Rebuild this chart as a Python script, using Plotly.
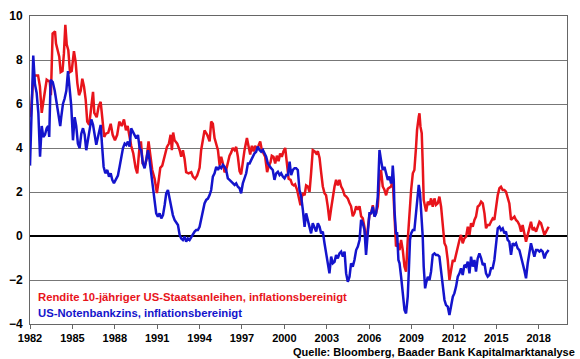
import plotly.graph_objects as go

# Rendite 10-jähriger US-Staatsanleihen, inflationsbereinigt (red)
red_years = [1982.05,1982.23,1982.35,1982.57,1982.70,1982.83,1983.06,1983.18,1983.40,1983.48,1983.60,1983.77,1983.84,1983.95,
1984.07,1984.17,1984.30,1984.40,1984.50,1984.60,1984.71,1984.83,1984.95,1985.11,1985.23,1985.35,1985.47,1985.59,1985.70,1985.82,1985.94,
1986.05,1986.19,1986.36,1986.46,1986.55,1986.72,1986.86,1987.00,1987.11,1987.25,1987.37,1987.54,1987.71,1987.85,1988.01,1988.17,1988.32,
1988.49,1988.65,1988.79,1988.91,1989.02,1989.16,1989.31,1989.47,1989.59,1989.73,1989.85,1989.97,1990.13,1990.25,1990.39,1990.51,1990.65,
1990.82,1990.98,1991.10,1991.22,1991.36,1991.53,1991.69,1991.83,1991.95,1992.04,1992.13,1992.23,1992.42,1992.59,1992.70,1992.82,1992.94,
1993.05,1993.22,1993.41,1993.53,1993.69,1993.83,1994.00,1994.11,1994.23,1994.35,1994.54,1994.71,1994.82,1994.94,1995.06,1995.18,1995.30,
1995.42,1995.53,1995.65,1995.77,1995.88,1996.00,1996.12,1996.24,1996.35,1996.48,1996.59,1996.71,1996.83,1996.94,1997.06,1997.18,1997.35,
1997.47,1997.58,1997.70,1997.82,1997.93,1998.05,1998.17,1998.29,1998.41,1998.53,1998.64,1998.78,1998.90,1999.02,1999.11,1999.23,1999.35,
1999.47,1999.59,1999.70,1999.82,1999.94,2000.06,2000.18,2000.30,2000.44,2000.55,2000.67,2000.76,2000.90,2001.02,2001.14,2001.25,2001.31,
2001.43,2001.54,2001.66,2001.78,2001.89,2002.01,2002.13,2002.25,2002.37,2002.49,2002.60,2002.72,2002.84,2002.95,2003.07,2003.19,2003.31,
2003.43,2003.55,2003.66,2003.78,2003.90,2004.02,2004.14,2004.26,2004.37,2004.49,2004.61,2004.72,2004.84,2004.96,2005.08,2005.20,2005.32,
2005.43,2005.55,2005.67,2005.78,2005.90,2006.02,2006.14,2006.26,2006.38,2006.49,2006.61,2006.73,2006.84,2006.96,2007.08,2007.20,2007.32,
2007.55,2007.67,2007.74,2007.83,2007.90,2008.03,2008.15,2008.26,2008.38,2008.50,2008.61,2008.73,2008.85,2008.97,2009.09,2009.20,2009.32,
2009.39,2009.51,2009.56,2009.63,2009.72,2009.79,2009.86,2009.96,2010.03,2010.15,2010.27,2010.38,2010.50,2010.62,2010.73,2010.85,2010.97,
2011.09,2011.21,2011.33,2011.44,2011.56,2011.68,2011.80,2011.92,2012.03,2012.15,2012.27,2012.39,2012.50,2012.62,2012.74,2012.86,2012.98,
2013.10,2013.21,2013.33,2013.45,2013.56,2013.68,2013.80,2013.92,2014.04,2014.16,2014.27,2014.39,2014.51,2014.62,2014.74,2014.86,2014.98,
2015.10,2015.22,2015.33,2015.45,2015.57,2015.68,2015.80,2015.92,2016.04,2016.16,2016.28,2016.39,2016.51,2016.63,2016.75,2016.86,2016.98,
2017.10,2017.22,2017.34,2017.45,2017.57,2017.69,2017.81,2017.93,2018.05,2018.16,2018.28,2018.40,2018.52,2018.64,2018.70]
red_values = [5.4,7.2,7.3,7.3,6.8,5.6,6.6,7.1,7.0,6.4,9.2,9.3,8.75,8.4,
8.15,7.45,7.5,8.3,9.6,8.7,8.45,7.45,7.5,8.4,7.9,6.95,6.4,6.6,7.15,6.8,6.2,
5.2,5.05,6.0,6.55,5.6,5.4,5.9,6.1,5.4,4.5,4.65,4.7,5.1,4.6,4.35,4.6,5.2,
5.0,5.3,4.8,5.0,4.5,4.1,3.75,3.1,2.85,3.9,4.3,3.3,3.2,3.5,4.3,3.8,3.0,
2.6,1.95,2.5,3.1,3.2,3.7,4.05,4.2,4.6,3.9,4.7,4.35,4.2,3.9,3.6,3.9,3.5,
2.9,2.85,2.9,2.7,2.6,2.75,3.1,3.9,4.35,4.8,4.6,4.3,5.2,5.1,4.45,4.2,3.9,
3.2,3.6,3.3,2.9,3.0,3.4,3.65,3.8,4.0,3.9,4.05,3.6,2.95,2.8,3.45,3.9,4.45,
4.1,3.7,4.1,3.85,4.1,3.95,4.1,4.3,3.9,3.75,3.6,2.9,3.2,3.35,3.65,3.6,3.3,
3.65,3.4,3.75,3.6,3.85,4.0,3.3,2.6,2.55,2.35,2.3,2.35,2.1,1.7,1.4,1.8,1.95,
1.85,2.3,2.25,2.0,2.85,3.9,3.85,3.75,3.85,3.55,2.9,2.25,1.95,1.85,1.35,0.7,1.25,
1.85,2.25,2.55,2.3,2.55,2.25,2.1,1.85,1.8,1.7,1.5,1.35,0.9,1.05,1.35,1.2,1.35,
0.9,0.8,0.4,-0.35,0.4,0.95,1.05,1.4,0.9,1.05,1.35,2.55,3.0,2.25,2.1,1.85,2.15,
2.25,2.55,1.48,0.27,-0.48,-0.33,-0.64,-0.18,-0.64,-1.39,-1.62,-0.18,1.18,2.09,2.85,3.0,4.06,
4.82,5.42,5.58,4.97,4.67,3.3,1.64,1.33,1.11,1.56,1.41,1.71,1.33,1.71,1.41,1.48,1.79,
1.33,0.42,-0.33,-0.48,-1.09,-2.0,-1.55,-1.09,-1.17,-0.79,-0.48,-0.18,0.05,-0.33,-0.11,-0.03,0.42,
0.05,0.58,0.42,0.73,0.88,1.33,1.4,1.56,1.48,1.03,0.35,0.5,0.5,0.65,0.8,0.73,1.33,
1.86,2.17,2.24,2.09,2.09,2.02,1.79,1.48,0.73,0.8,0.88,0.73,0.65,0.5,0.2,0.5,0.05,
-0.26,0.05,0.42,0.65,0.27,0.35,0.2,0.42,0.65,0.58,0.27,0.05,0.2,0.35,0.42]

# US-Notenbankzins, inflationsbereinigt (blue)
blue_years = [1982.00,1982.23,1982.35,1982.47,1982.59,1982.71,1982.83,1982.94,1983.06,1983.18,1983.29,1983.36,1983.46,1983.61,1983.75,
1983.86,1983.98,1984.14,1984.21,1984.33,1984.45,1984.57,1984.69,1984.81,1984.92,1985.04,1985.16,1985.27,1985.39,1985.51,1985.63,1985.75,
1985.87,1985.98,1986.10,1986.22,1986.34,1986.46,1986.58,1986.69,1986.81,1986.93,1987.00,1987.09,1987.21,1987.33,1987.47,1987.59,1987.71,
1987.82,1987.94,1988.06,1988.22,1988.34,1988.46,1988.58,1988.70,1988.81,1988.93,1989.05,1989.16,1989.28,1989.40,1989.52,1989.64,1989.76,
1989.87,1989.99,1990.11,1990.23,1990.35,1990.46,1990.58,1990.70,1990.82,1990.93,1991.05,1991.17,1991.29,1991.41,1991.53,1991.64,1991.76,
1991.88,1991.99,1992.11,1992.23,1992.35,1992.47,1992.59,1992.70,1992.82,1992.94,1993.05,1993.17,1993.29,1993.41,1993.53,1993.65,1993.76,
1993.88,1994.00,1994.11,1994.23,1994.35,1994.47,1994.59,1994.71,1994.82,1994.94,1995.06,1995.18,1995.30,1995.42,1995.53,1995.65,1995.77,
1995.88,1996.00,1996.12,1996.24,1996.36,1996.48,1996.59,1996.71,1996.83,1996.94,1997.06,1997.18,1997.30,1997.42,1997.54,1997.65,1997.77,
1997.89,1998.00,1998.12,1998.24,1998.36,1998.48,1998.60,1998.71,1998.83,1998.95,1999.06,1999.18,1999.30,1999.42,1999.54,1999.66,1999.77,
1999.89,2000.01,2000.13,2000.25,2000.37,2000.48,2000.60,2000.72,2000.83,2000.95,2001.07,2001.19,2001.31,2001.43,2001.54,2001.66,2001.78,
2001.89,2002.01,2002.13,2002.25,2002.37,2002.49,2002.60,2002.72,2002.84,2002.95,2003.07,2003.19,2003.31,2003.43,2003.55,2003.66,2003.78,
2003.90,2004.02,2004.14,2004.26,2004.37,2004.49,2004.61,2004.72,2004.84,2004.96,2005.08,2005.20,2005.32,2005.43,2005.55,2005.67,2005.78,
2005.90,2006.02,2006.14,2006.26,2006.38,2006.49,2006.61,2006.73,2006.84,2006.96,2007.08,2007.20,2007.32,2007.44,2007.55,2007.62,2007.67,
2007.74,2007.79,2007.90,2007.98,2008.07,2008.15,2008.26,2008.38,2008.50,2008.61,2008.73,2008.80,2008.89,2008.97,2009.09,2009.20,2009.32,
2009.39,2009.51,2009.60,2009.67,2009.79,2009.86,2009.96,2010.03,2010.15,2010.27,2010.38,2010.50,2010.62,2010.73,2010.85,2010.97,2011.09,
2011.21,2011.33,2011.44,2011.56,2011.68,2011.80,2011.92,2012.03,2012.15,2012.27,2012.39,2012.50,2012.62,2012.74,2012.86,2012.98,2013.10,
2013.21,2013.33,2013.45,2013.56,2013.68,2013.80,2013.92,2014.04,2014.16,2014.27,2014.39,2014.51,2014.62,2014.74,2014.86,2014.98,2015.10,
2015.22,2015.33,2015.45,2015.57,2015.68,2015.80,2015.92,2016.04,2016.16,2016.28,2016.39,2016.51,2016.63,2016.75,2016.86,2016.98,2017.10,
2017.22,2017.34,2017.45,2017.57,2017.69,2017.81,2017.93,2018.05,2018.16,2018.28,2018.40,2018.52,2018.64,2018.70]
blue_values = [3.2,8.2,6.9,6.5,5.6,3.6,5.0,4.5,4.6,4.9,5.0,4.5,7.1,7.0,6.6,
6.2,5.6,5.0,5.4,6.0,6.25,6.6,7.5,6.8,5.9,4.35,5.4,5.0,4.2,4.0,4.65,4.9,
4.6,3.9,4.35,4.95,5.3,5.05,4.6,4.15,4.5,4.85,5.05,4.2,3.15,2.85,3.0,2.7,2.85,
2.55,2.4,2.55,2.75,3.15,3.6,4.0,4.2,4.14,4.29,4.06,4.89,4.74,4.59,4.44,4.59,3.98,
3.9,3.3,3.08,3.45,3.9,3.45,2.85,2.09,1.48,1.03,0.88,1.03,0.8,0.95,1.41,1.94,2.09,
1.71,1.26,0.95,0.73,0.58,0.5,0.05,-0.11,-0.18,-0.03,-0.26,-0.11,-0.18,-0.03,0.12,0.2,0.27,
0.27,0.42,0.73,1.03,1.48,1.64,1.7,1.86,2.09,2.7,2.85,3.15,3.0,3.15,3.08,3.23,3.15,
3.0,2.62,2.55,2.47,2.39,2.32,2.39,2.24,2.17,1.94,2.39,2.62,2.85,3.3,3.3,3.45,3.61,
3.76,3.83,4.06,3.91,3.83,3.91,3.76,3.61,3.3,3.15,3.08,3.0,2.55,2.85,2.92,2.77,2.85,
2.7,2.62,2.77,2.77,3.38,2.77,3.0,3.08,3.08,3.0,2.09,1.79,1.18,0.42,1.03,0.73,0.35,
0.12,0.58,0.35,0.2,0.58,0.42,0.12,0.2,-0.33,-0.79,-1.24,-1.7,-0.94,-1.24,-1.17,-0.86,-1.02,
-0.79,-0.71,-0.94,-0.71,-1.7,-2.08,-1.85,-1.24,-1.39,-1.09,-0.64,-0.48,-0.18,0.73,0.58,0.27,-0.86,
0.12,1.03,1.03,1.33,0.88,1.03,1.79,3.91,3.45,3.0,3.15,2.77,2.55,2.7,2.39,2.55,3.2,
2.55,1.18,0.12,0.12,-1.09,-1.24,-1.85,-2.61,-3.36,-3.52,-2.76,-1.7,-0.18,0.12,0.27,0.27,1.03,
1.64,2.32,1.94,1.33,-0.03,-1.39,-2.38,-2.15,-1.85,-2.0,-1.62,-0.86,-0.79,-0.86,-0.86,-0.94,-1.55,
-2.3,-2.91,-3.14,-3.21,-3.59,-3.21,-2.76,-2.61,-2.3,-1.85,-1.7,-1.47,-1.77,-1.32,-1.39,-1.17,-1.7,
-0.94,-1.39,-1.09,-1.62,-1.02,-0.79,-1.0,-1.32,-1.24,-1.7,-1.85,-1.77,-1.47,-1.47,-1.09,-0.33,0.35,
0.42,0.27,0.35,0.12,0.2,-0.18,-0.26,-0.86,-0.33,-0.41,-0.33,-0.56,-0.64,-1.02,-1.24,-1.55,-1.92,
-1.24,-0.64,-0.33,-0.64,-0.94,-0.64,-0.64,-0.71,-0.64,-0.71,-1.02,-0.79,-0.71,-0.64]

year_ticks = [1982, 1985, 1988, 1991, 1994, 1997, 2000, 2003, 2006, 2009, 2012, 2015, 2018]
y_ticks = [-4, -2, 0, 2, 4, 6, 8, 10]

red_name = "Rendite 10-jähriger US-Staatsanleihen, inflationsbereinigt"
blue_name = "US-Notenbankzins, inflationsbereinigt"
source_text = "Quelle: Bloomberg, Baader Bank Kapitalmarktanalyse"

RED = "#e8141b"
BLUE = "#1414cc"
FONT = "Liberation Sans, Arial, sans-serif"

fig = go.Figure()
fig.add_trace(go.Scatter(x=red_years, y=red_values, mode="lines", name=red_name,
                         line=dict(color=RED, width=2.5)))
fig.add_trace(go.Scatter(x=blue_years, y=blue_values, mode="lines", name=blue_name,
                         line=dict(color=BLUE, width=2.5)))

fig.update_layout(
    width=580, height=359,
    margin=dict(l=30, r=13, t=16, b=35),
    paper_bgcolor="white", plot_bgcolor="white",
    showlegend=False,
    font=dict(family=FONT, size=11, color="black"),
)
fig.update_xaxes(
    range=[1982, 2020], tickvals=year_ticks, ticktext=[str(t) for t in year_ticks],
    automargin=False,
    showgrid=False, zeroline=False,
    showline=True, linecolor="#666666", linewidth=1, mirror=True,
    ticks="outside", ticklen=4, tickcolor="#666666",
    tickfont=dict(family=FONT, size=11, color="black", weight="bold"),
)
fig.update_yaxes(
    range=[-4, 10], tickvals=y_ticks,
    automargin=False,
    showgrid=True, gridcolor="#777777", gridwidth=1,
    zeroline=True, zerolinecolor="black", zerolinewidth=2,
    showline=True, linecolor="#666666", linewidth=1, mirror=True,
    ticks="", ticklabelstandoff=4,
    tickfont=dict(family=FONT, size=12, color="black", weight="bold"),
)

fig.add_annotation(x=0.011, y=0.0877, xref="paper", yref="paper", xanchor="left", yanchor="middle",
                   text=red_name, showarrow=False,
                   font=dict(family=FONT, size=11.3, color=RED, weight="bold"))
fig.add_annotation(x=0.011, y=0.0357, xref="paper", yref="paper", xanchor="left", yanchor="middle",
                   text=blue_name, showarrow=False,
                   font=dict(family=FONT, size=11.3, color=BLUE, weight="bold"))
fig.add_annotation(x=1.019, y=-0.091, xref="paper", yref="paper", xanchor="right", yanchor="middle",
                   text=source_text, showarrow=False,
                   font=dict(family=FONT, size=11, color="black", weight="bold"))

fig.write_html("out.html", config={"displayModeBar": False},
               post_script="document.body.style.margin='0px';")
